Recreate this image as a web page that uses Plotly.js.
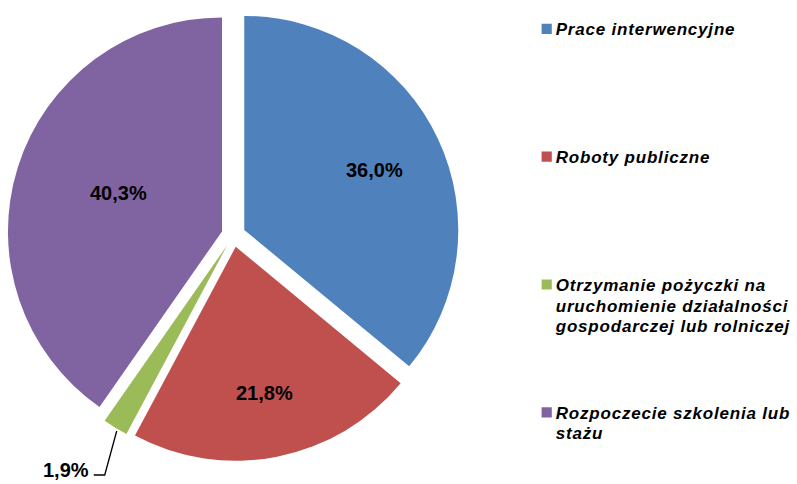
<!DOCTYPE html>
<html>
<head>
<meta charset="utf-8">
<script src="https://cdn.plot.ly/plotly-3.0.1.min.js"></script>
<style>
html, body { margin: 0; padding: 0; background: #fff; }
#chart { width: 797px; height: 484px; }
.legendtext { letter-spacing: 0.8px; }
.legendpie { transform: translate(31px, 0px) scale(0.85); }
</style>
</head>
<body>
<div id="chart"></div>
<script>
// ---- data ----
const categories = [
  'Prace interwencyjne',
  'Roboty publiczne',
  'Otrzymanie pożyczki na<br>uruchomienie działalności<br>gospodarczej lub rolniczej',
  'Rozpoczecie szkolenia lub<br>stażu'
];
const values = [36.0, 21.8, 1.9, 40.3];
const sliceLabels = ['36,0%', '21,8%', '1,9%', '40,3%'];
const colors = ['#4F81BD', '#C0504D', '#9BBB59', '#8064A2'];

// ---- layout helpers ----
const W = 797, H = 484;
const M = { l: 0, r: 0, t: 9, b: 23 };
const px2x = px => (px - M.l) / (W - M.l - M.r);
const py2y = py => 1 - (py - M.t) / (H - M.t - M.b);

// label placement (pixel centres of the data labels, as in the original)
const labelPos = [[375, 170], [265, 393], [66, 470], [119, 193]];
const labelFont = { family: 'Liberation Sans, Arial, sans-serif', size: 20, color: '#000', weight: 'bold' };

// bigger glyphs inside the legend while keeping 16px line spacing,
// and pad every entry to the same number of lines
const LINES = 6;
const legendLabels = categories.map(c => {
  const parts = c.split('<br>');
  const shown = parts.map(p => '<span style="font-size:17px">' + p + '</span>').join('<br>');
  return shown + '<br>&nbsp;'.repeat(LINES - parts.length);
});

const trace = {
  type: 'pie',
  labels: legendLabels,
  values: values,
  textinfo: 'none',
  sort: false,
  direction: 'clockwise',
  rotation: 0,
  pull: 0.056,
  marker: { colors: colors, line: { width: 0 } },
  domain: { x: [0, 468 / 797], y: [0, 1] },
  hoverinfo: 'skip'
};

const annotations = sliceLabels.map((t, i) => ({
  xref: 'paper', yref: 'paper',
  x: px2x(labelPos[i][0]), y: py2y(labelPos[i][1]),
  xanchor: 'center', yanchor: 'middle',
  text: t,
  showarrow: false,
  font: labelFont
}));

const layout = {
  width: W, height: H,
  margin: M,
  paper_bgcolor: '#fff',
  plot_bgcolor: '#fff',
  showlegend: true,
  legend: {
    x: px2x(517), xanchor: 'left',
    y: py2y(12), yanchor: 'top',
    valign: 'top',
    font: { family: 'Liberation Sans, Arial, sans-serif', size: 16, color: '#000', weight: 'bold', style: 'italic' },
    bgcolor: 'rgba(0,0,0,0)',
    borderwidth: 0
  },
  annotations: annotations,
  shapes: [{
    type: 'path', xref: 'paper', yref: 'paper',
    path: 'M ' + px2x(117) + ',' + py2y(431) + ' L ' + px2x(105) + ',' + py2y(475) + ' L ' + px2x(94) + ',' + py2y(475),
    line: { color: '#000', width: 1.3 }
  }]
};

Plotly.newPlot('chart', [trace], layout, { displayModeBar: false, staticPlot: true });
</script>
</body>
</html>
